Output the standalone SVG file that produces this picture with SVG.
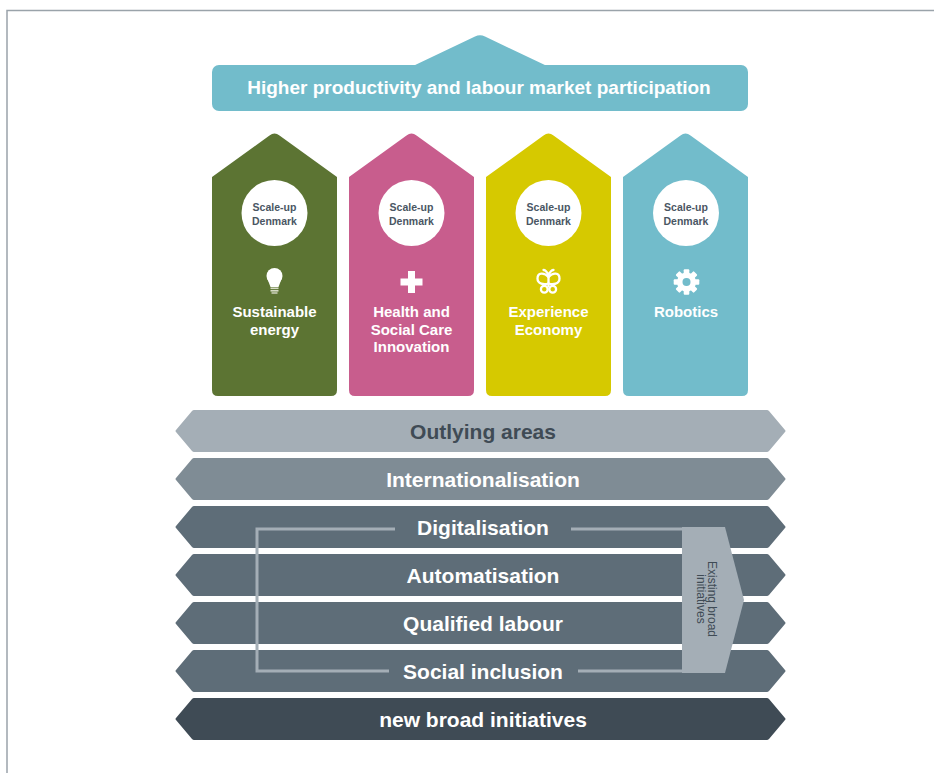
<svg xmlns="http://www.w3.org/2000/svg" width="934" height="773" viewBox="0 0 934 773">
<style>
.f{font-family:"Liberation Sans",Arial,sans-serif;}
.band{font-family:"Liberation Sans",Arial,sans-serif;font-size:21px;font-weight:bold;fill:#fff;text-anchor:middle;}
.pl{font-family:"Liberation Sans",Arial,sans-serif;font-size:15px;font-weight:bold;fill:#fff;text-anchor:middle;}
.su{font-family:"Liberation Sans",Arial,sans-serif;font-size:10.5px;font-weight:bold;fill:#4a5663;text-anchor:middle;}
.br{fill:none;stroke:#a4aeb6;stroke-width:3;}
</style>
<defs>
<path id="pillar" d="M0,177 L57.5,135.6 Q62.5,131.5 67.5,135.6 L125,177 L125,390 Q125,396 119,396 L6,396 Q0,396 0,390 Z"/>
<path id="band" d="M194,0 L767,0 Q768,0 769,1 L785,20 Q786,21 785,22 L769,41 Q768,42 767,42 L194,42 Q193,42 192,41 L176,22 Q175,21 176,20 L192,1 Q193,0 194,0 Z"/>
</defs>
<rect width="934" height="773" fill="#fff"/>
<g id="frame" fill="none" stroke="#9aa3aa" stroke-width="1.5">
<path d="M7,773 L7,10.5 L934,10.5"/>
</g>
<g id="goal">
<path d="M413,66 L475,36.5 Q480,34 485,36.5 L547,66 Z" fill="#72bccb"/>
<rect x="212" y="65" width="536" height="46" rx="7" fill="#72bccb"/>
<text class="f" x="479" y="94" font-size="19" font-weight="bold" fill="#fff" text-anchor="middle">Higher productivity and labour market participation</text>
</g>
<g id="pillar-energy">
<use href="#pillar" x="212" fill="#5c7433"/>
<circle cx="274.5" cy="213" r="33" fill="#fff"/>
<text class="su" x="274.5" y="211">Scale-up</text>
<text class="su" x="274.5" y="225">Denmark</text>
<g fill="#fff">
<circle cx="274.5" cy="276" r="8"/>
<path d="M267.5,279 L281.5,279 L278.5,287 L270.5,287 Z"/>
<rect x="270.5" y="287.5" width="8" height="1.6" fill="#d6dbc6"/>
<rect x="270.5" y="290" width="8" height="1.6" fill="#d6dbc6"/>
<rect x="271.5" y="292.3" width="6" height="1.4" fill="#d6dbc6"/>
</g>
<text class="pl" x="274.5" y="317">Sustainable</text>
<text class="pl" x="274.5" y="335">energy</text>
</g>
<g id="pillar-health">
<use href="#pillar" x="349" fill="#c85d8d"/>
<circle cx="411.5" cy="213" r="33" fill="#fff"/>
<text class="su" x="411.5" y="211">Scale-up</text>
<text class="su" x="411.5" y="225">Denmark</text>
<path d="M408,271 h7 v7.5 h7.5 v7 h-7.5 v7.5 h-7 v-7.5 h-7.5 v-7 h7.5 Z" fill="#fff"/>
<text class="pl" x="411.5" y="317">Health and</text>
<text class="pl" x="411.5" y="335">Social Care</text>
<text class="pl" x="411.5" y="352">Innovation</text>
</g>
<g id="pillar-experience">
<use href="#pillar" x="486" fill="#d6c900"/>
<circle cx="548.5" cy="213" r="33" fill="#fff"/>
<text class="su" x="548.5" y="211">Scale-up</text>
<text class="su" x="548.5" y="225">Denmark</text>
<g fill="none" stroke="#fff" stroke-width="2.3" stroke-linecap="round" stroke-linejoin="round">
<path d="M543.5,270 Q546,270 548.5,275 Q551,270 553.5,270"/>
<path d="M548.5,277 C544,272 537.5,272.5 537.5,278.5 C537.5,284 544,285 548.5,283.5"/>
<path d="M548.5,277 C553,272 559.5,272.5 559.5,278.5 C559.5,284 553,285 548.5,283.5"/>
<path d="M548.5,276 L548.5,286"/>
<circle cx="544.3" cy="289.3" r="3.4"/>
<circle cx="552.7" cy="289.3" r="3.4"/>
</g>
<text class="pl" x="548.5" y="317">Experience</text>
<text class="pl" x="548.5" y="335">Economy</text>
</g>
<g id="pillar-robotics">
<use href="#pillar" x="623" fill="#72bccb"/>
<circle cx="686" cy="213" r="33" fill="#fff"/>
<text class="su" x="686" y="211">Scale-up</text>
<text class="su" x="686" y="225">Denmark</text>
<g transform="translate(686.5,282)">
<circle r="9.5" fill="#fff"/>
<g fill="#fff">
<rect x="-2.8" y="-12.8" width="5.6" height="6" rx="1"/>
<rect x="-2.8" y="-12.8" width="5.6" height="6" rx="1" transform="rotate(45)"/>
<rect x="-2.8" y="-12.8" width="5.6" height="6" rx="1" transform="rotate(90)"/>
<rect x="-2.8" y="-12.8" width="5.6" height="6" rx="1" transform="rotate(135)"/>
<rect x="-2.8" y="-12.8" width="5.6" height="6" rx="1" transform="rotate(180)"/>
<rect x="-2.8" y="-12.8" width="5.6" height="6" rx="1" transform="rotate(225)"/>
<rect x="-2.8" y="-12.8" width="5.6" height="6" rx="1" transform="rotate(270)"/>
<rect x="-2.8" y="-12.8" width="5.6" height="6" rx="1" transform="rotate(315)"/>
</g>
<circle r="4" fill="#72bccb"/>
</g>
<text class="pl" x="686" y="317">Robotics</text>
</g>
<g id="band-outlying">
<use href="#band" y="410" fill="#a4aeb6"/>
<text class="band" x="483" y="439" style="fill:#3f4b55">Outlying areas</text>
</g>
<g id="band-internationalisation">
<use href="#band" y="458" fill="#7f8c95"/>
<text class="band" x="483" y="487">Internationalisation</text>
</g>
<g id="band-digitalisation">
<use href="#band" y="506" fill="#5e6d78"/>
<text class="band" x="483" y="535">Digitalisation</text>
</g>
<g id="band-automatisation">
<use href="#band" y="554" fill="#5e6d78"/>
<text class="band" x="483" y="583">Automatisation</text>
</g>
<g id="band-qualified">
<use href="#band" y="602" fill="#5e6d78"/>
<text class="band" x="483" y="631">Qualified labour</text>
</g>
<g id="band-social">
<use href="#band" y="650" fill="#5e6d78"/>
<text class="band" x="483" y="679">Social inclusion</text>
</g>
<g id="band-new">
<use href="#band" y="698" fill="#3f4b55"/>
<text class="band" x="483" y="727">new broad initiatives</text>
</g>
<g id="connectors">
<path class="br" d="M395,529 L257,529 L257,671 L389,671"/>
<path class="br" d="M571,529 L683,529"/>
<path class="br" d="M578,671 L683,671"/>
</g>
<g id="existing">
<path d="M682,527 L725,527 L744,600 L725,673 L682,673 Z" fill="#a4aeb6"/>
<g transform="translate(705,599) rotate(90)">
<text class="f" x="0" y="-3" font-size="12" fill="#3f4b55" text-anchor="middle">Existing broad</text>
<text class="f" x="0" y="8" font-size="12" fill="#3f4b55" text-anchor="middle">initiatives</text>
</g>
</g>
</svg>
